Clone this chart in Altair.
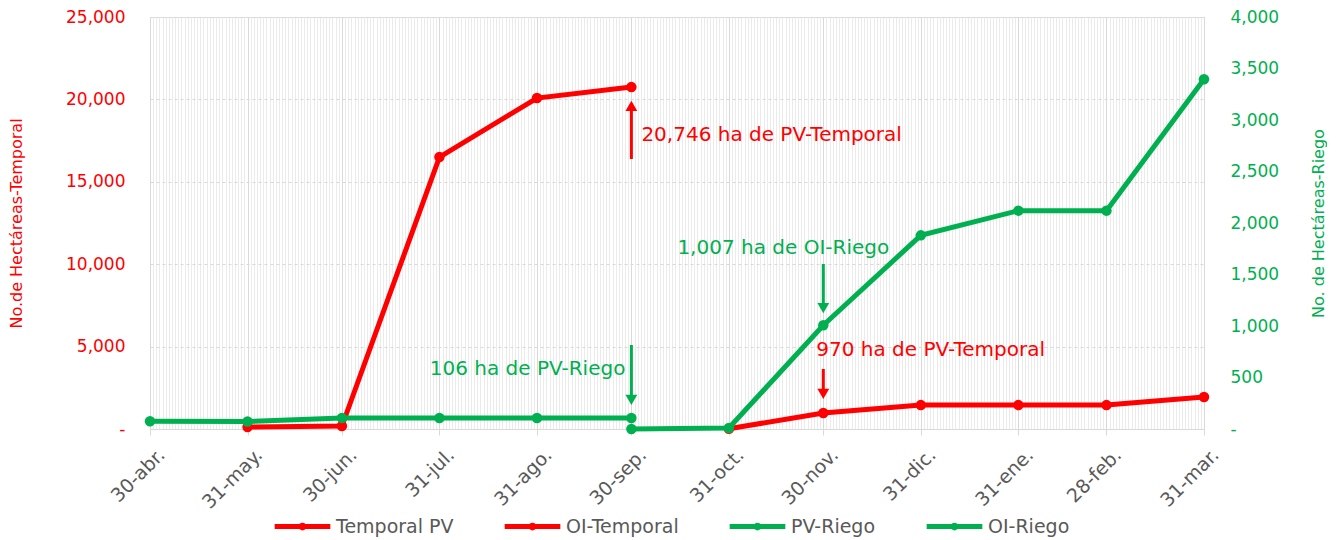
import altair as alt
import pandas as pd

# ---- data ----
dates = ["2022/04/30", "2022/05/31", "2022/06/30", "2022/07/31", "2022/08/31", "2022/09/30",
         "2022/10/31", "2022/11/30", "2022/12/31", "2023/01/31", "2023/02/28", "2023/03/31"]
temporal_pv = [None, 120, 180, 16500, 20080, 20746, None, None, None, None, None, None]
oi_temporal = [None, None, None, None, None, None, 20, 970, 1450, 1450, 1450, 1940]
pv_riego = [75, 73, 106, 106, 106, 106, None, None, None, None, None, None]
oi_riego = [None, None, None, None, None, 0, 10, 1007, 1880, 2120, 2120, 3395]

series_names = ["Temporal PV", "OI-Temporal", "PV-Riego", "OI-Riego"]
series_colors = ["#ff0000", "#ff0000", "#00b050", "#00b050"]
month_abbr = ["ene.", "feb.", "mar.", "abr.", "may.", "jun.", "jul.", "ago.", "sep.", "oct.", "nov.", "dic."]

# annotations (text, date, left-axis value)
ann_text = ["20,746 ha de PV-Temporal", "106 ha de PV-Riego", "1,007 ha de OI-Riego", "970 ha de PV-Temporal"]
ann_date = ["2022/09/30", "2022/09/30", "2022/11/30", "2022/11/30"]
ann_value = [17840, 3641, 10983, 4794]
# arrows (date, start value, head value) on left axis
arr_date = ["2022/09/30", "2022/09/30", "2022/11/30", "2022/11/30"]
arr_from = [16383, 5097, 10012, 3641]
arr_to = [19600, 1760, 7342, 2124]

RED = "#ff0000"
GREEN = "#00b050"
GRAY = "#595959"
FONT = "DejaVu Sans"


def long_df(names_vals):
    rows = []
    for name, vals in names_vals:
        for d, v in zip(dates, vals):
            if v is not None:
                rows.append({"date": d, "series": name, "value": v})
    return pd.DataFrame(rows)


left_df = long_df([("Temporal PV", temporal_pv), ("OI-Temporal", oi_temporal)])
right_df = long_df([("PV-Riego", pv_riego), ("OI-Riego", oi_riego)])

month_js = "[" + ",".join("'" + m + "'" for m in month_abbr) + "]"
is_month_end = "date(time(datum.value) + 129600000) == 1"
label_expr = (f"{is_month_end} ? (date(time(datum.value) + 43200000) + '-' + "
              f"{month_js}[month(time(datum.value) + 43200000)]) : ''")

x_scale = alt.Scale(type="time", nice=False,
                    domain=[alt.DateTime(year=2022, month=4, date=30),
                            alt.DateTime(year=2023, month=3, date=31)])

x_axis = alt.Axis(
    title=None,
    tickCount={"interval": "day", "step": 1},
    labelExpr=label_expr,
    labelOverlap=False,
    labelAngle=-45,
    labelAlign="right",
    labelBaseline="top",
    labelPadding=10,
    labelOffset=5,
    labelFontSize=19,
    labelColor=GRAY,
    labelFont=FONT,
    grid=True,
    gridColor={"condition": {"test": is_month_end, "value": "#d9d9d9"}, "value": "#ebebeb"},
    gridWidth=1,
    ticks=True,
    tickSize=6,
    tickColor={"condition": {"test": is_month_end, "value": "#d9d9d9"}, "value": "transparent"},
    domainColor="#d9d9d9",
    domainWidth=1,
)

color_enc = alt.Color(
    "series:N",
    scale=alt.Scale(domain=series_names, range=series_colors),
    legend=alt.Legend(
        title=None,
        orient="none",
        legendX=122,
        legendY=479,
        direction="horizontal",
        columns=4,
        symbolType="M-1,0H1M-0.05,0A0.05,0.05 0 1,0 0.05,0A0.05,0.05 0 1,0 -0.05,0",
        symbolSize=3100,
        symbolStrokeWidth=5,
        labelFontSize=19,
        labelColor=GRAY,
        labelFont=FONT,
        labelOffset=3,
        columnPadding=40,
    ),
)

left_lines = alt.Chart(left_df).mark_line(
    strokeWidth=5, point=alt.OverlayMarkDef(size=110, filled=True, opacity=1)
).encode(
    x=alt.X("date:T", scale=x_scale, axis=x_axis),
    y=alt.Y("value:Q",
            scale=alt.Scale(domain=[0, 25000], nice=False),
            axis=alt.Axis(
                title="No.de Hectáreas-Temporal",
                titleColor=RED, titleFontSize=16, titleFont=FONT, titleFontWeight="normal",
                titlePadding=41,
                values=[0, 5000, 10000, 15000, 20000, 25000],
                labelExpr="datum.value == 0 ? '-' : format(datum.value, ',')",
                labelColor=RED, labelFontSize=17, labelFont=FONT, labelPadding=25,
                ticks=False, tickSize=0, domain=False,
                grid=True, gridColor="#d9d9d9", gridDash=[3, 3], gridWidth=1,
            )),
    color=color_enc,
    detail="series:N",
)

ann_layers = []
for i, col in enumerate([RED, GREEN, GREEN, RED]):
    t_df = pd.DataFrame({"date": [ann_date[i]], "value": [ann_value[i]], "text": [ann_text[i]]})
    align = ["left", "right", "center", "left"][i]
    dx = [10, -6, -40, -7][i]
    ann_layers.append(
        alt.Chart(t_df).mark_text(align=align, baseline="middle", dx=dx, fontSize=20, font=FONT, color=col)
        .encode(x=alt.X("date:T", scale=x_scale), y=alt.Y("value:Q"), text="text:N")
    )
    a_df = pd.DataFrame({"date": [arr_date[i]], "v1": [arr_from[i]], "v2": [arr_to[i]]})
    ann_layers.append(
        alt.Chart(a_df).mark_rule(strokeWidth=3, color=col)
        .encode(x=alt.X("date:T", scale=x_scale), y=alt.Y("v1:Q"), y2="v2:Q")
    )
    shape = "triangle-up" if arr_to[i] > arr_from[i] else "triangle-down"
    ann_layers.append(
        alt.Chart(a_df).mark_point(shape=shape, filled=True, size=140, opacity=1, color=col, strokeWidth=0)
        .encode(x=alt.X("date:T", scale=x_scale), y=alt.Y("v2:Q"))
    )

left = alt.layer(left_lines, *ann_layers)

right = alt.Chart(right_df).mark_line(
    strokeWidth=5, point=alt.OverlayMarkDef(size=110, filled=True, opacity=1)
).encode(
    x=alt.X("date:T", scale=x_scale),
    y=alt.Y("value:Q",
            scale=alt.Scale(domain=[0, 4000], nice=False),
            axis=alt.Axis(
                orient="right",
                title="No. de Hectáreas-Riego",
                titleAngle=270,
                titleColor=GREEN, titleFontSize=16, titleFont=FONT, titleFontWeight="normal",
                titlePadding=48,
                values=list(range(0, 4001, 500)),
                labelExpr="datum.value == 0 ? '-' : format(datum.value, ',')",
                labelColor=GREEN, labelFontSize=17, labelFont=FONT, labelPadding=26,
                ticks=False, tickSize=0, domain=False, grid=False,
            )),
    color=color_enc,
    detail="series:N",
)

chart = alt.layer(left, right).resolve_scale(y="independent").properties(
    width=1054, height=412, padding={"left": 0, "top": 0, "right": 0, "bottom": 0}
).configure_view(stroke=None).configure(background="white")

chart.save("out.html", embed_options={"renderer": "svg", "actions": False})
